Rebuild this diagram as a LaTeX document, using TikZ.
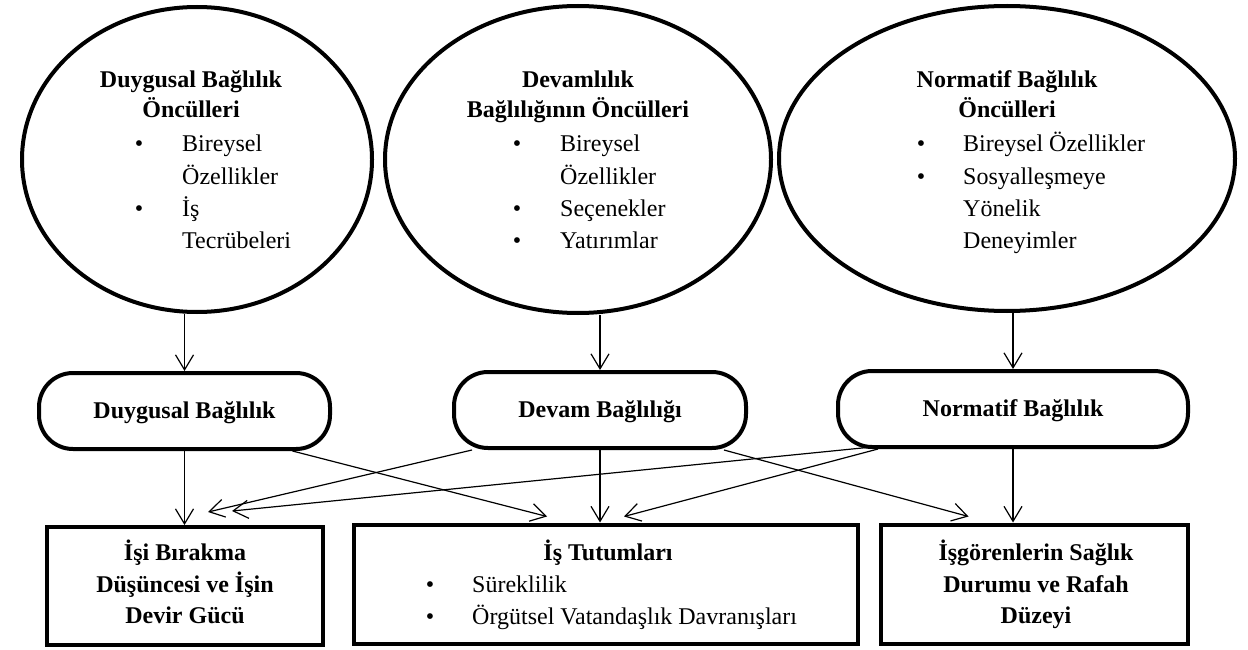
\documentclass[tikz,border=0pt]{standalone}
\usepackage{fontspec}
\setmainfont{Liberation Serif}
\usetikzlibrary{shapes.geometric,arrows.meta}
\begin{document}
\begin{tikzpicture}[x=1pt,y=-1pt,
  every node/.style={font=\fontsize{24}{30}\selectfont, inner sep=0pt},
  oval/.style={ellipse, draw, line width=4pt, fill=white},
  pill/.style={draw, line width=4pt, rounded corners=34pt, minimum height=76pt, text height=16pt, text depth=2pt, font=\fontsize{24}{30}\selectfont\bfseries},
  outbox/.style={draw, line width=4pt},
  arr/.style={line width=1.2pt, -{Straight Barb[length=15pt,width=18pt,line width=1.2pt]}},
  hd/.style={font=\fontsize{24}{30}\selectfont\bfseries, anchor=base},
  it/.style={anchor=base west},
  bl/.style={anchor=base}
]
\useasboundingbox (0,0) rectangle (1248,650);

% ellipses
\node[oval, minimum width=350pt, minimum height=305pt] (e1) at (197,159.5) {};
\node[oval, minimum width=386pt, minimum height=307pt] (e2) at (578,159.5) {};
\node[oval, minimum width=456pt, minimum height=305pt] (e3) at (1007,158.5) {};

% ellipse 1 text
\node[hd] (h1a) at (191,88) {Duygusal Bağlılık};
\node[hd] (h1b) at (191,118) {Öncülleri};
\node[bl] (d1a) at (139,152) {•};
\node[it] (i1a) at (182,152) {Bireysel};
\node[it] (i1b) at (182,184) {Özellikler};
\node[bl] (d1b) at (139,216) {•};
\node[it] (i1c) at (182,216) {İş};
\node[it] (i1d) at (182,248) {Tecrübeleri};

% ellipse 2 text
\node[hd] (h2a) at (578,88) {Devamlılık};
\node[hd] (h2b) at (578,118) {Bağlılığının Öncülleri};
\node[bl] (d2a) at (517,152) {•};
\node[it] (i2a) at (560,152) {Bireysel};
\node[it] (i2b) at (560,184) {Özellikler};
\node[bl] (d2b) at (517,216) {•};
\node[it] (i2c) at (560,216) {Seçenekler};
\node[bl] (d2c) at (517,248) {•};
\node[it] (i2d) at (560,248) {Yatırımlar};

% ellipse 3 text
\node[hd] (h3a) at (1007,88) {Normatif Bağlılık};
\node[hd] (h3b) at (1007,118) {Öncülleri};
\node[bl] (d3a) at (921,152) {•};
\node[it] (i3a) at (963,152) {Bireysel Özellikler};
\node[bl] (d3b) at (921,184) {•};
\node[it] (i3b) at (963,184) {Sosyalleşmeye};
\node[it] (i3c) at (963,216) {Yönelik};
\node[it] (i3d) at (963,248) {Deneyimler};

% rounded boxes
\node[pill, minimum width=291pt] (r1) at (184.5,411) {Duygusal Bağlılık};
\node[pill, minimum width=292pt] (r2) at (600,410) {Devam Bağlılığı};
\node[pill, minimum width=350pt] (r3) at (1013,409) {Normatif Bağlılık};

% bottom boxes
\node[outbox, minimum width=276pt, minimum height=118pt] (b1) at (185,586) {};
\node[outbox, minimum width=504pt, minimum height=119pt] (b2) at (606,584) {};
\node[outbox, minimum width=307pt, minimum height=119pt] (b3) at (1034.5,584) {};

\node[hd] (t1a) at (185,560) {İşi Bırakma};
\node[hd] (t1b) at (185,592) {Düşüncesi ve İşin};
\node[hd] (t1c) at (185,623) {Devir Gücü};

\node[hd] (t2a) at (608,560) {İş Tutumları};
\node[bl] (d4a) at (430,592) {•};
\node[it] (t2b) at (472,592) {Süreklilik};
\node[bl] (d4b) at (430,624) {•};
\node[it] (t2c) at (472,624) {Örgütsel Vatandaşlık Davranışları};

\node[hd] (t3a) at (1036,560) {İşgörenlerin Sağlık};
\node[hd] (t3b) at (1036,592) {Durumu ve Rafah};
\node[hd] (t3c) at (1036,623) {Düzeyi};

% arrows ellipses -> rounded boxes
\draw[arr] (r1.north |- e1.south) -- (r1.north);
\draw[arr] (r2.north |- e2.south) -- (r2.north);
\draw[arr] (r3.north |- e3.south) -- (r3.north);

% vertical arrows rounded boxes -> bottom boxes
\draw[arr] (r1.south) -- (r1.south |- b1.north);
\draw[arr] (r2.south) -- (r2.south |- b2.north);
\draw[arr] (r3.south) -- (r3.south |- b3.north);

% diagonal arrows
\coordinate (r1o) at ([xshift=108pt]r1.south);
\coordinate (r2l) at ([xshift=-128pt]r2.south);
\coordinate (r2r) at ([xshift=124pt]r2.south);
\coordinate (r3a) at ([xshift=-141pt,yshift=2pt]r3.south);
\coordinate (r3b) at ([xshift=-135pt]r3.south);
\coordinate (b1x) at ([xshift=23pt,yshift=13pt]b1.north);
\coordinate (b1y) at ([xshift=47pt,yshift=14pt]b1.north);
\coordinate (b2x) at ([xshift=-59pt,yshift=6pt]b2.north);
\coordinate (b2y) at ([xshift=18pt,yshift=6pt]b2.north);
\coordinate (b3x) at ([xshift=-66pt,yshift=6pt]b3.north);

\draw[arr] (r1o) -- (b2x);
\draw[arr] (r2l) -- (b1x);
\draw[arr] (r2r) -- (b3x);
\draw[arr] (r3a) -- (b1y);
\draw[arr] (r3b) -- (b2y);
\end{tikzpicture}
\end{document}
